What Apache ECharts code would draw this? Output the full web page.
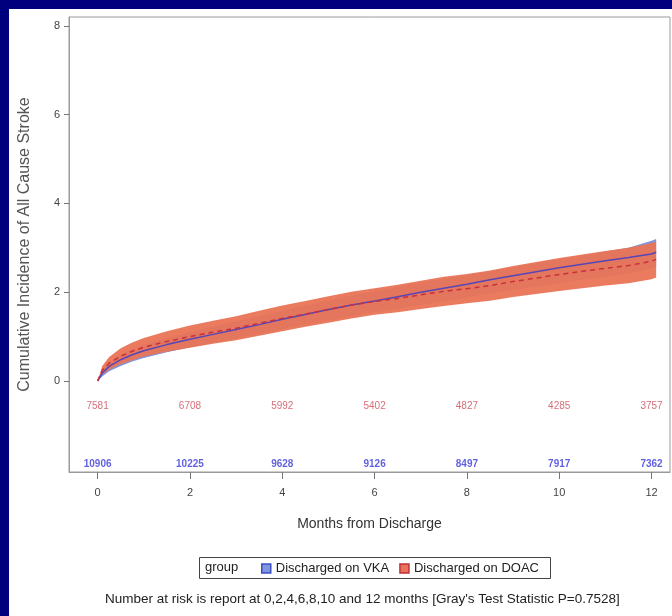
<!DOCTYPE html>
<html>
<head>
<meta charset="utf-8">
<script src="https://cdn.jsdelivr.net/npm/echarts@6/dist/echarts.min.js"></script>
<style>
  html, body { margin: 0; padding: 0; background: #00007f; }
  #mycharts { position: absolute; left: 9px; top: 9px; width: 663px; height: 607px; background: #fff; }
</style>
</head>
<body>
<div id="mycharts"></div>
<script>
// months from discharge
var months = [0, 0.1, 0.25, 0.5, 0.75, 1, 1.5, 2, 2.5, 3, 3.5, 4, 4.5, 5, 5.5, 6, 6.5, 7, 7.5, 8, 8.5, 9, 9.5, 10, 10.5, 11, 11.5, 12, 12.1];
// Discharged on VKA
var vka   = [0, 0.18, 0.33, 0.48, 0.59, 0.68, 0.82, 0.94, 1.05, 1.16, 1.27, 1.39, 1.5, 1.61, 1.71, 1.8, 1.9, 2.0, 2.09, 2.18, 2.28, 2.37, 2.46, 2.55, 2.63, 2.71, 2.78, 2.86, 2.9];
var vkaLo = [0, 0.1, 0.22, 0.34, 0.44, 0.52, 0.65, 0.76, 0.86, 0.96, 1.06, 1.17, 1.27, 1.37, 1.46, 1.55, 1.63, 1.72, 1.8, 1.88, 1.97, 2.05, 2.13, 2.21, 2.28, 2.35, 2.41, 2.54, 2.57];
var vkaHi = [0, 0.24, 0.42, 0.6, 0.72, 0.82, 0.97, 1.1, 1.22, 1.34, 1.46, 1.58, 1.7, 1.81, 1.92, 2.02, 2.12, 2.22, 2.31, 2.39, 2.47, 2.56, 2.65, 2.74, 2.83, 2.92, 3.0, 3.16, 3.2];
// Discharged on DOAC
var doac   = [0, 0.24, 0.4, 0.56, 0.67, 0.76, 0.89, 1.0, 1.1, 1.19, 1.3, 1.41, 1.51, 1.61, 1.71, 1.79, 1.86, 1.94, 2.02, 2.08, 2.15, 2.24, 2.32, 2.4, 2.47, 2.54, 2.6, 2.7, 2.74];
var doacLo = [0, 0.14, 0.26, 0.38, 0.47, 0.55, 0.66, 0.75, 0.84, 0.92, 1.02, 1.12, 1.22, 1.31, 1.41, 1.49, 1.55, 1.62, 1.69, 1.75, 1.81, 1.89, 1.96, 2.03, 2.09, 2.15, 2.2, 2.29, 2.33];
var doacHi = [0, 0.34, 0.54, 0.74, 0.87, 0.97, 1.12, 1.25, 1.36, 1.46, 1.58, 1.7, 1.8, 1.91, 2.01, 2.09, 2.17, 2.26, 2.35, 2.41, 2.49, 2.59, 2.68, 2.77, 2.85, 2.93, 3.0, 3.11, 3.15];
// number at risk
var riskMonths = [0, 2, 4, 6, 8, 10, 12];
var riskDoac = [7581, 6708, 5992, 5402, 4827, 4285, 3757];
var riskVka = [10906, 10225, 9628, 9126, 8497, 7917, 7362];
var xTicks = [0, 2, 4, 6, 8, 10, 12];
var yTicks = [0, 2, 4, 6, 8];

var font = 'Liberation Sans, Arial, sans-serif';

function pairs(ys) {
  return months.map(function (m, i) { return [m, ys[i]]; });
}

// confidence band drawn as one polygon through the axes
function band(name, lo, hi, color, opacity, z) {
  return {
    name: name,
    type: 'custom',
    silent: true,
    z: z,
    data: [[0, 0]],
    renderItem: function (params, api) {
      var pts = [];
      for (var i = 0; i < months.length; i++) pts.push(api.coord([months[i], hi[i]]));
      for (var j = months.length - 1; j >= 0; j--) pts.push(api.coord([months[j], lo[j]]));
      return { type: 'polygon', shape: { points: pts }, style: { fill: color, opacity: opacity } };
    }
  };
}

function riskRow(name, vals, y, color, weight) {
  return {
    name: name,
    type: 'scatter',
    silent: true,
    symbolSize: 1,
    itemStyle: { color: 'rgba(0,0,0,0)' },
    data: riskMonths.map(function (m, i) { return [m, y, vals[i]]; }),
    label: {
      show: true, position: 'inside', color: color, fontSize: 10, fontWeight: weight, fontFamily: font,
      formatter: function (p) { return p.data[2]; }
    }
  };
}

var myChart = echarts.init(document.getElementById('mycharts'));
var option = {
  animation: false,
  grid: { left: 55, top: 8, right: 2, bottom: 144, show: true, borderColor: '#9a9a9a', borderWidth: 1 },
  xAxis: {
    type: 'value', min: -0.62, max: 12.4,
    name: 'Months from Discharge', nameLocation: 'middle', nameGap: 45,
    nameTextStyle: { fontSize: 14, color: '#333', fontFamily: font },
    axisLine: { onZero: false, lineStyle: { color: '#9a9a9a' } },
    axisTick: { length: 7, customValues: xTicks, lineStyle: { color: '#777' } },
    axisLabel: { customValues: xTicks, fontSize: 11, color: '#444', margin: 15, fontFamily: font },
    splitLine: { show: false }
  },
  yAxis: {
    type: 'value', min: -2.05, max: 8.2,
    name: 'Cumulative Incidence of All Cause Stroke', nameLocation: 'middle', nameGap: 36,
    nameTextStyle: { fontSize: 16, color: '#555', fontFamily: font },
    axisLine: { show: true, onZero: false, lineStyle: { color: '#9a9a9a' } },
    axisTick: { show: true, length: 5, customValues: yTicks, lineStyle: { color: '#777' } },
    axisLabel: { customValues: yTicks, fontSize: 11, color: '#444', margin: 9, fontFamily: font },
    splitLine: { show: false }
  },
  legend: {
    left: 247, top: 548, itemWidth: 9, itemHeight: 9, itemGap: 10, icon: 'rect',
    textStyle: { fontSize: 13, color: '#222', fontFamily: font },
    data: [
      { name: 'Discharged on VKA', itemStyle: { color: '#7f96dc', borderColor: '#3b4fc4', borderWidth: 1.5 } },
      { name: 'Discharged on DOAC', itemStyle: { color: '#e8735a', borderColor: '#c0303a', borderWidth: 1.5 } }
    ]
  },
  graphic: [
    { type: 'rect', left: 188, top: 546, shape: { width: 351, height: 21 },
      style: { fill: 'none', stroke: '#444', lineWidth: 1 } },
    { type: 'text', left: 196, top: 552,
      style: { text: 'group', fontSize: 13, fill: '#222', fontFamily: font } },
    { type: 'text', left: 96, top: 583,
      style: { text: "Number at risk is report at 0,2,4,6,8,10 and 12 months [Gray's Test Statistic P=0.7528]",
        fontSize: 13.5, fill: '#222', fontFamily: font } }
  ],
  series: [
    band('vka band', vkaLo, vkaHi, '#7f96dc', 1, 1),
    band('doac band', doacLo, doacHi, '#ea7456', 0.95, 2),
    {
      name: 'Discharged on VKA', type: 'line', showSymbol: false, z: 3,
      data: pairs(vka), color: '#7f96dc',
      lineStyle: { color: '#5646b8', width: 1.5 }
    },
    {
      name: 'Discharged on DOAC', type: 'line', showSymbol: false, z: 4,
      data: pairs(doac), color: '#e8735a',
      lineStyle: { color: '#c8303c', width: 1.5, type: [5, 4] }
    },
    riskRow('risk doac', riskDoac, -0.58, '#cc4a56', 'normal'),
    riskRow('risk vka', riskVka, -1.88, '#3a3ad8', 'bold')
  ]
};
myChart.setOption(option, true);
</script>
</body>
</html>
